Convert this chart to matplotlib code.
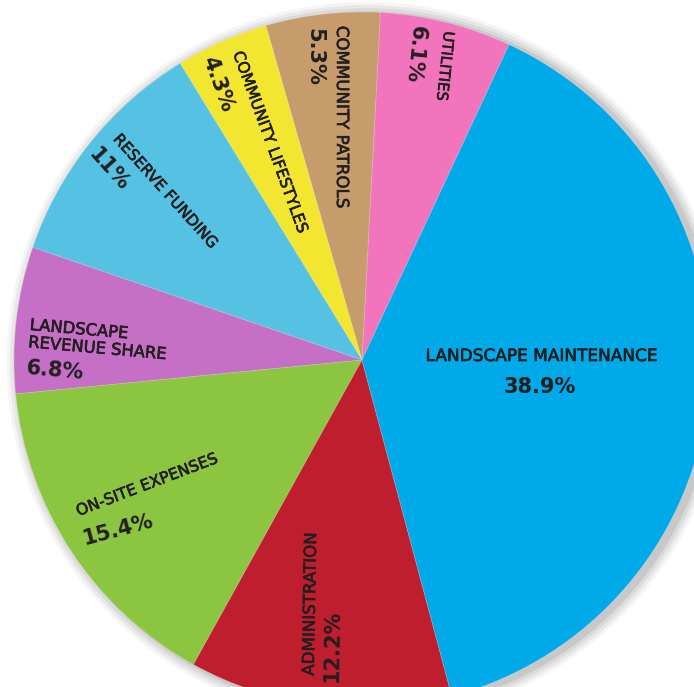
import matplotlib
matplotlib.use("Agg")
import matplotlib.pyplot as plt
import matplotlib.patheffects as pe
from matplotlib.patches import Circle

# slice data, counterclockwise starting at the utilities slice
labels = ["UTILITIES", "COMMUNITY PATROLS", "COMMUNITY LIFESTYLES", "RESERVE FUNDING",
          "LANDSCAPE\nREVENUE SHARE", "ON-SITE EXPENSES", "ADMINISTRATION",
          "LANDSCAPE MAINTENANCE"]
values = [6.1, 5.3, 4.3, 11.0, 6.8, 15.4, 12.2, 38.9]
pct_text = ["6.1%", "5.3%", "4.3%", "11%", "6.8%", "15.4%", "12.2%", "38.9%"]
colors = ["#f274bc", "#c69c6d", "#f2e630", "#56c2e3", "#c56fc6", "#8cc540",
          "#bf1e2e", "#00a9e7"]

W, H = 694, 687
CX, CY, R = 362, 360, 348  # pie centre and radius in pixels


def px(x, y):
    # pixel position -> data coordinates (radius 1 pie)
    return (x - CX) / R, (CY - y) / R


fig = plt.figure(figsize=(W / 100, H / 100), dpi=100)
ax = fig.add_axes([0, 0, 1, 1])

# soft drop shadow
for i, a in enumerate([0.04, 0.05, 0.06, 0.08]):
    ax.add_patch(Circle((0.014, -0.006), 1.0 + 0.035 - i * 0.009, color="black",
                        alpha=a, lw=0, zorder=0))

ax.pie(values, colors=colors, startangle=65, counterclock=True, radius=1.0,
       wedgeprops=dict(linewidth=0.6, edgecolor="#ffffff30"))

ink = "#231f20"
txt = dict(color=ink, family="DejaVu Sans", ha="center", va="center")
thick = [pe.withStroke(linewidth=0.45, foreground=ink)]

# name labels: (pixel x, pixel y, rotation, size)
name_pos = [(445, 66, -96, 10.8), (342, 117, -90, 12.0), (270, 142, -70, 11.3),
            (165, 191, -48, 11.2), (29, 334, -5, 11.8), (147, 485, 21, 11.3),
            (310, 604, 89, 12.0), (541, 356, 0, 12.2)]
pct_pos = [(415, 54, -96, 15), (314, 57, -90, 15), (218, 84, -70, 15),
           (109, 170, -48, 15), (55, 371, -5, 15), (118, 530, 15, 15),
           (332, 646, 89, 15), (540, 387, 0, 15)]

for lab, p, npos, ppos in zip(labels, pct_text, name_pos, pct_pos):
    x, y = px(npos[0], npos[1])
    if "\n" in lab:
        ax.text(x, y, lab, fontsize=npos[3], rotation=npos[2],
                rotation_mode="anchor", linespacing=1.2, path_effects=thick,
                **{**txt, "ha": "left"})
    else:
        ax.text(x, y, lab, fontsize=npos[3], rotation=npos[2],
                path_effects=thick, **txt)
    x, y = px(ppos[0], ppos[1])
    ax.text(x, y, p, fontsize=ppos[3], rotation=ppos[2], fontweight="bold", **txt)

ax.set_xlim(-CX / R, (W - CX) / R)
ax.set_ylim(-(H - CY) / R, CY / R)
ax.set_aspect("auto")
ax.axis("off")

fig.savefig("out.png", dpi=100, facecolor="white")
